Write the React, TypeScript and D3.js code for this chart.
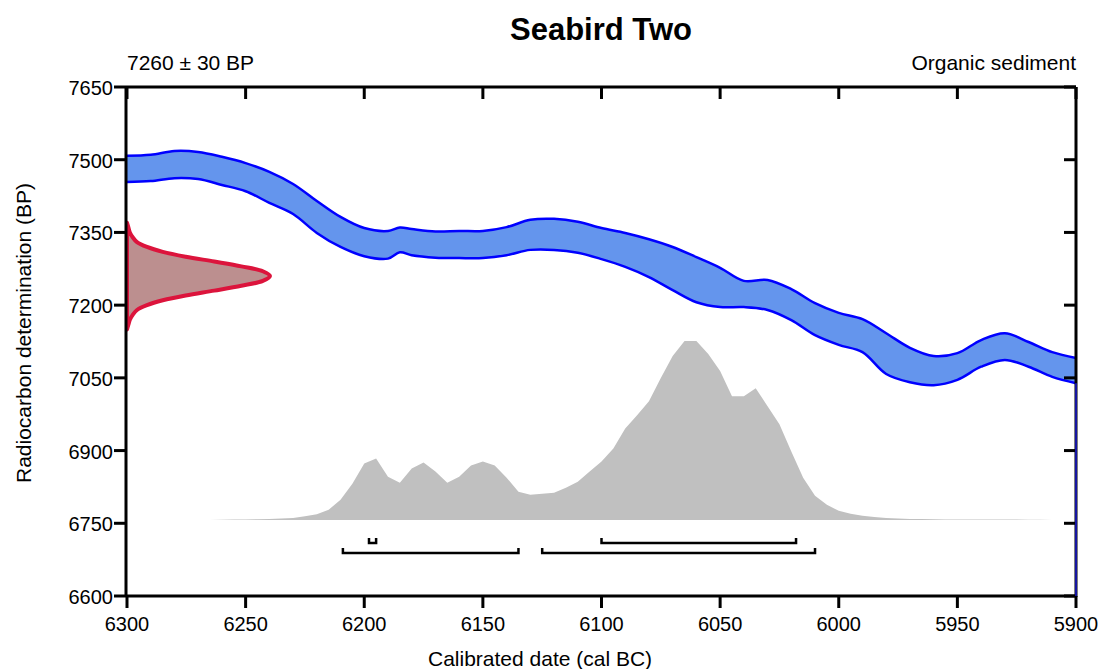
import React from 'react';
import * as d3 from 'd3';

const W = 1098;
const H = 669;
const FONT = '"Liberation Sans", Arial, sans-serif';

const TITLE = 'Seabird Two';
const DATE_LABEL = '7260 ± 30 BP';
const SAMPLE_LABEL = 'Organic sediment';

const X_TICKS = [6300, 6250, 6200, 6150, 6100, 6050, 6000, 5950, 5900];
const Y_TICKS = [6600, 6750, 6900, 7050, 7200, 7350, 7500, 7650];

// calibration curve (cal BC, upper / lower edge in BP)
const curveCal = [6300, 6290, 6280, 6270, 6260, 6250, 6240, 6230, 6220, 6210, 6200, 6190, 6185, 6180, 6170, 6160, 6150, 6140, 6130, 6120, 6110, 6100, 6090, 6080, 6070, 6060, 6050, 6040, 6030, 6020, 6010, 6000, 5990, 5980, 5970, 5960, 5950, 5940, 5930, 5920, 5910, 5900];
const curveHigh = [7508, 7510, 7518, 7516, 7506, 7493, 7475, 7450, 7415, 7382, 7359, 7353, 7360, 7357, 7352, 7353, 7353, 7361, 7376, 7378, 7372, 7359, 7349, 7336, 7320, 7299, 7277, 7250, 7252, 7233, 7204, 7184, 7171, 7142, 7112, 7095, 7101, 7128, 7142, 7124, 7103, 7091];
const curveLow = [7454, 7456, 7462, 7460, 7448, 7435, 7411, 7388, 7349, 7320, 7301, 7296, 7309, 7303, 7298, 7297, 7297, 7303, 7314, 7314, 7308, 7295, 7279, 7258, 7231, 7206, 7196, 7196, 7190, 7169, 7138, 7118, 7103, 7058, 7041, 7035, 7046, 7073, 7087, 7073, 7052, 7039];

// radiocarbon measurement likelihood (BP, relative)
const rcBP = [7370, 7360, 7350, 7340, 7330, 7320, 7310, 7300, 7290, 7280, 7270, 7260, 7250, 7240, 7230, 7220, 7210, 7200, 7190, 7180, 7170, 7160, 7150];
const rcProb = [0, 0.01, 0.02, 0.04, 0.07, 0.14, 0.25, 0.41, 0.61, 0.8, 0.95, 1, 0.95, 0.8, 0.61, 0.41, 0.25, 0.14, 0.07, 0.04, 0.02, 0.01, 0];

// calibrated probability (cal BC, relative)
const calYears = [6265, 6260, 6255, 6250, 6245, 6240, 6235, 6230, 6225, 6220, 6215, 6210, 6205, 6200, 6195, 6190, 6185, 6180, 6175, 6170, 6165, 6160, 6155, 6150, 6145, 6140, 6135, 6130, 6125, 6120, 6115, 6110, 6105, 6100, 6095, 6090, 6085, 6080, 6075, 6070, 6065, 6060, 6055, 6050, 6045, 6040, 6035, 6030, 6025, 6020, 6015, 6010, 6005, 6000, 5995, 5990, 5985, 5980, 5975, 5970, 5965, 5960, 5955, 5950, 5945, 5940, 5935, 5930, 5925, 5920, 5915, 5910];
const calProb = [0, 0.2, 0.3, 0.5, 0.7, 1, 1.5, 2, 3.5, 5.5, 10, 20, 36, 56, 61, 43, 37, 51, 57, 48, 37, 43, 54, 58, 54, 42, 28, 25, 26, 27, 32, 38, 48, 58, 71, 91, 104, 118, 141, 163, 178, 178, 165, 148, 123, 123, 131, 113, 95, 68, 42, 24, 15, 9, 6, 4, 3, 2, 1.5, 1, 0.8, 0.6, 0.5, 0.5, 0.4, 0.4, 0.3, 0.3, 0.3, 0.2, 0.2, 0];

// highest posterior density ranges
const range68 = [[6198, 6195], [6100, 6018]];
const range95 = [[6209, 6135], [6125, 6010]];

const left = 127, right = 1076, top = 87, bottom = 596;

export default function App() {
  const x = d3.scaleLinear().domain([6300, 5900]).range([left, right]);
  const y = d3.scaleLinear().domain([6600, 7650]).range([bottom, top]);

  const band = curveCal.map((c, i) => ({ c, hi: curveHigh[i], lo: curveLow[i] }));
  const crv = d3.curveCatmullRom.alpha(0.5);
  const bandArea = d3.area<any>().x(d => x(d.c)).y0(d => y(d.lo)).y1(d => y(d.hi)).curve(crv);
  const hiLine = d3.line<any>().x(d => x(d.c)).y(d => y(d.hi)).curve(crv);
  const loLine = d3.line<any>().x(d => x(d.c)).y(d => y(d.lo)).curve(crv);

  const rcW = d3.scaleLinear().domain([0, 1]).range([left, 270]);
  const rc = rcBP.map((b, i) => ({ b, p: rcProb[i] }));
  const rcPath = d3.line<any>().x(d => rcW(d.p)).y(d => y(d.b)).curve(d3.curveCatmullRom)(rc);

  const baseY = y(6757);
  const pY = d3.scaleLinear().domain([0, d3.max(calProb) as number]).range([baseY, baseY - 179]);
  const dens = calYears.map((c, i) => ({ c, p: calProb[i] }));
  const densArea = d3.area<any>().x(d => x(d.c)).y0(baseY).y1(d => pY(d.p));

  const bracket = (r: number[], yy: number, k: string) => (
    <path key={k} d={`M${x(r[0])},${yy - 5}V${yy}H${x(r[1])}V${yy - 5}`} fill="none" stroke="#000" strokeWidth={2.5} />
  );

  const tl = 12;

  return (
    <svg width={W} height={H} style={{ position: 'absolute', left: 0, top: 0, background: '#fff' }} fontFamily={FONT}>
      <text x={601} y={40} textAnchor="middle" fontSize={31} fontWeight="bold">{TITLE}</text>
      <text x={left} y={70} fontSize={21}>{DATE_LABEL}</text>
      <text x={right} y={70} fontSize={21} textAnchor="end">{SAMPLE_LABEL}</text>

      <path d={bandArea(band) as string} fill="#6495ed" />
      <path d={hiLine(band) as string} fill="none" stroke="#0000ff" strokeWidth={2.5} />
      <path d={loLine(band) as string} fill="none" stroke="#0000ff" strokeWidth={2.5} />

      <path d={densArea(dens) as string} fill="#c0c0c0" />

      <path d={(rcPath as string) + 'Z'} fill="#bc8f8f" stroke="#dc143c" strokeWidth={4} strokeLinejoin="round" />

      {range68.map((r, i) => bracket(r, 543, 'a' + i))}
      {range95.map((r, i) => bracket(r, 553, 'b' + i))}

      <g stroke="#000" strokeWidth={3}>
        <line x1={left - 1} x2={left - 1} y1={top} y2={bottom + 1} />
        <line x1={right} x2={right} y1={top} y2={bottom + 1} />
        <line x1={left - 1} x2={right} y1={top} y2={top} />
        <line x1={left - 1} x2={right} y1={bottom} y2={bottom} />
        {X_TICKS.map(t => (
          <g key={t}>
            <line x1={x(t)} x2={x(t)} y1={bottom} y2={bottom + tl} />
            <line x1={x(t)} x2={x(t)} y1={top} y2={top + tl} />
          </g>
        ))}
        {Y_TICKS.map(t => (
          <g key={t}>
            <line x1={left - 1} x2={left - 1 - tl} y1={y(t)} y2={y(t)} />
            <line x1={right} x2={right - tl} y1={y(t)} y2={y(t)} />
          </g>
        ))}
      </g>
      <line x1={right} x2={right} y1={y(curveLow[curveLow.length - 1])} y2={bottom} stroke="#1515a0" strokeWidth={2} />

      {X_TICKS.map(t => (
        <text key={t} x={x(t)} y={631} fontSize={20} textAnchor="middle">{t}</text>
      ))}
      {Y_TICKS.map(t => (
        <text key={t} x={113} y={y(t) + 8} fontSize={20} textAnchor="end">{t}</text>
      ))}

      <text x={428} y={666} fontSize={21}>Calibrated date (cal BC)</text>
      <text transform={`translate(31,${333}) rotate(-90)`} fontSize={21} textAnchor="middle">Radiocarbon determination (BP)</text>
    </svg>
  );
}
